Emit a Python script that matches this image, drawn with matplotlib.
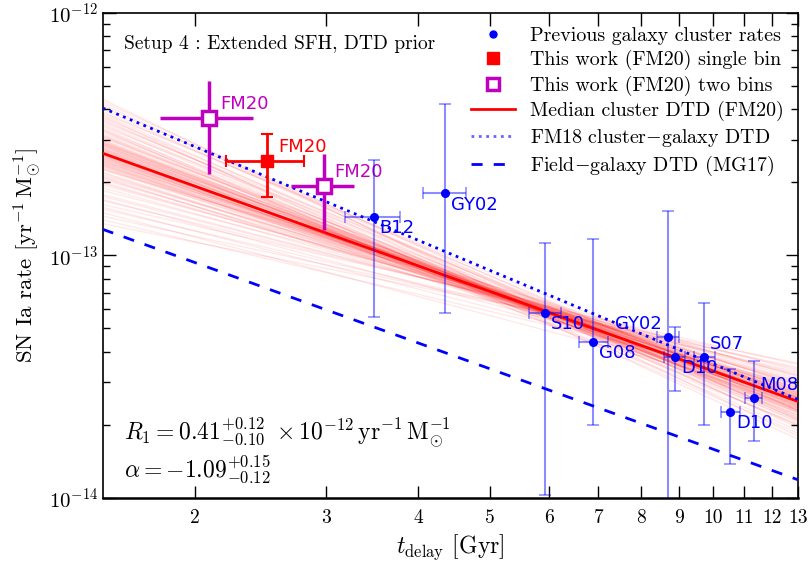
import numpy as np
import matplotlib
matplotlib.use("Agg")
import matplotlib.pyplot as plt
from matplotlib.lines import Line2D
from matplotlib.ticker import NullLocator, FixedLocator, FixedFormatter, LogFormatterSciNotation

plt.rcParams['font.family'] = 'serif'
plt.rcParams['font.serif'] = ['cmr10', 'DejaVu Serif']
plt.rcParams['mathtext.fontset'] = 'cm'
plt.rcParams['axes.formatter.use_mathtext'] = True
plt.rcParams['axes.unicode_minus'] = True

# previous galaxy cluster rates (t in Gyr, rate in yr^-1 Msun^-1)
prev_labels = ['B12', 'GY02', 'S10', 'G08', 'GY02', 'D10', 'S07', 'D10', 'M08']
prev_t = [3.48, 4.35, 5.93, 6.89, 8.69, 8.89, 9.73, 10.55, 11.36]
prev_t_lo = [3.18, 4.06, 5.64, 6.59, 8.40, 8.59, 9.43, 10.26, 11.04]
prev_t_hi = [3.78, 4.64, 6.23, 7.20, 9.00, 9.17, 10.04, 10.87, 11.64]
prev_r = [1.44e-13, 1.80e-13, 5.77e-14, 4.41e-14, 4.62e-14, 3.80e-14, 3.80e-14, 2.26e-14, 2.58e-14]
prev_r_lo = [5.55e-14, 5.79e-14, 1.03e-14, 1.99e-14, 1e-16, 2.77e-14, 1.99e-14, 1.38e-14, 1.71e-14]
prev_r_hi = [2.46e-13, 4.22e-13, 1.12e-13, 1.17e-13, 1.53e-13, 5.05e-14, 6.34e-14, 3.41e-14, 3.68e-14]
# label side: 'below' right of point, 'above' right, 'aboveleft'
prev_lab_pos = ['below', 'below', 'below', 'below', 'aboveleft', 'below', 'above', 'below', 'above']

# this work, single bin
single_t, single_t_lo, single_t_hi = 2.50, 2.20, 2.80
single_r, single_r_lo, single_r_hi = 2.45e-13, 1.74e-13, 3.15e-13

# this work, two bins
two_t = [2.09, 2.98]
two_t_lo = [1.79, 2.69]
two_t_hi = [2.39, 3.28]
two_r = [3.69e-13, 1.94e-13]
two_r_lo = [2.16e-13, 1.27e-13]
two_r_hi = [5.23e-13, 2.61e-13]

# power-law DTDs: R1 (at 1 Gyr) and slope
med_R1, med_alpha = 0.41e-12, -1.09
fm18_R1, fm18_alpha = 0.68e-12, -1.28
mg17_R1, mg17_alpha = 0.20e-12, -1.10

# posterior draws: rate at t=1.5 Gyr (1e-13) and at t=13 Gyr (1e-14)
post_left = [2.64, 2.50, 2.80, 2.35, 2.95, 2.70, 2.45, 2.58, 3.10, 2.25,
             2.85, 2.40, 2.62, 3.30, 2.15, 2.75, 2.55, 2.90, 2.30, 3.50,
             2.68, 2.48, 2.05, 3.00, 2.60, 2.78, 2.38, 3.20, 2.52, 1.95,
             2.72, 2.44, 3.05, 2.66, 2.20, 3.80, 2.56, 2.88, 2.42, 2.10,
             2.82, 2.62, 3.40, 2.34, 2.98, 2.50, 1.85, 2.76, 4.20, 2.58,
             2.46, 2.92, 2.28, 3.15, 2.70, 2.40, 2.86, 2.54, 3.60, 2.00,
             1.70, 3.25, 2.12, 2.94, 1.55, 3.45, 2.36, 3.70, 1.45, 2.18,
             3.35, 1.90, 4.00, 2.26, 3.08, 1.62, 2.84, 3.55, 1.78, 4.40,
             2.32, 3.12, 1.98, 2.74, 3.90, 1.35, 2.60, 3.28, 2.08, 2.90,
             1.50, 4.10, 1.68, 3.65, 1.40, 3.85, 1.75, 4.30, 1.58, 3.75]
post_right = [2.50, 2.62, 2.38, 2.70, 2.45, 2.30, 2.75, 2.55, 2.28, 2.85,
              2.40, 2.58, 2.66, 2.20, 2.95, 2.52, 2.35, 2.60, 2.48, 2.10,
              2.42, 2.78, 3.05, 2.32, 2.56, 2.64, 2.44, 2.36, 2.90, 3.20,
              2.47, 2.68, 2.60, 2.34, 2.72, 2.05, 2.51, 2.40, 2.82, 2.62,
              2.57, 2.26, 2.48, 2.58, 2.18, 2.66, 3.35, 2.44, 1.95, 2.74,
              2.54, 2.39, 2.92, 2.25, 2.60, 2.70, 2.31, 2.49, 2.15, 3.00,
              2.88, 2.12, 3.10, 2.20, 3.30, 2.00, 2.76, 2.30, 3.45, 2.66,
              1.90, 2.98, 2.14, 3.15, 2.08, 3.55, 2.02, 2.45, 3.20, 1.80,
              2.72, 2.24, 3.02, 2.35, 2.40, 3.60, 2.52, 1.85, 2.80, 2.28,
              2.60, 2.30, 3.40, 1.98, 2.95, 2.55, 3.25, 2.10, 2.85, 1.75]

x_ticks = [2, 3, 4, 5, 6, 7, 8, 9, 10, 11, 12, 13]
y_ticks = [1e-14, 1e-13, 1e-12]
y_minor = [k * 10.0 ** e for e in (-14, -13) for k in range(2, 10)]
t_min, t_max = 1.5, 13.0

fig = plt.figure(figsize=(8.08, 5.64), dpi=100)
ax = fig.add_axes([0.1271, 0.1170, 0.8601, 0.8605])
ax.set_xscale('log')
ax.set_yscale('log')

# posterior lines
for l, r in zip(post_left, post_right):
    ax.plot([t_min, t_max], [l * 1e-13, r * 1e-14], color='red', alpha=0.09, lw=1, zorder=1)

t_line = np.array([t_min, t_max])
ax.plot(t_line, med_R1 * t_line ** med_alpha, color='red', lw=2, zorder=3)
ax.plot(t_line, fm18_R1 * t_line ** fm18_alpha, color='blue', ls=':', lw=2, zorder=3)
ax.plot(t_line, mg17_R1 * t_line ** mg17_alpha, color='blue', ls='--', lw=2, dashes=(4, 4), zorder=3)

# previous cluster rates
pt = np.array(prev_t)
pr = np.array(prev_r)
xerr = [pt - np.array(prev_t_lo), np.array(prev_t_hi) - pt]
yerr = [pr - np.array(prev_r_lo), np.array(prev_r_hi) - pr]
ax.errorbar(pt, pr, xerr=xerr, yerr=yerr, fmt='none', ecolor='blue', alpha=0.45,
            elinewidth=1.5, capsize=4, capthick=1.2, zorder=4)
ax.plot(pt, pr, 'o', color='blue', ms=5.5, zorder=5)
for t, r, lab, pos in zip(prev_t, prev_r, prev_labels, prev_lab_pos):
    if pos == 'below':
        ax.annotate(lab, (t, r), xytext=(4, -8), textcoords='offset points',
                    ha='left', va='center', color='blue', fontsize=13, family='DejaVu Sans')
    elif pos == 'above':
        ax.annotate(lab, (t, r), xytext=(4, 9.5), textcoords='offset points',
                    ha='left', va='center', color='blue', fontsize=13, family='DejaVu Sans')
    else:
        ax.annotate(lab, (t, r), xytext=(-4.5, 9), textcoords='offset points',
                    ha='right', va='center', color='blue', fontsize=13, family='DejaVu Sans')

# this work
ax.errorbar([single_t], [single_r],
            xerr=[[single_t - single_t_lo], [single_t_hi - single_t]],
            yerr=[[single_r - single_r_lo], [single_r_hi - single_r]],
            fmt='s', color='red', ms=9, elinewidth=2, capsize=4, capthick=1.5, zorder=7)
tt = np.array(two_t)
tr = np.array(two_r)
ax.errorbar(tt, tr, xerr=[tt - np.array(two_t_lo), np.array(two_t_hi) - tt],
            yerr=[tr - np.array(two_r_lo), np.array(two_r_hi) - tr],
            fmt='s', color='m', mfc='white', mec='m', mew=2.5, ms=9.5,
            elinewidth=2.5, capsize=0, zorder=7)
for t, r, c in [(two_t[0], two_r[0], 'm'), (single_t, single_r, 'red'), (two_t[1], two_r[1], 'm')]:
    ax.annotate('FM20', (t, r), xytext=(8, 9.7), textcoords='offset points',
                ha='left', va='center', color=c, fontsize=13, family='DejaVu Sans')

ax.set_xlim(t_min, t_max)
ax.set_ylim(1e-14, 1e-12)
ax.xaxis.set_major_locator(FixedLocator(x_ticks))
ax.xaxis.set_major_formatter(FixedFormatter([str(v) for v in x_ticks]))
ax.xaxis.set_minor_locator(NullLocator())
ax.yaxis.set_major_locator(FixedLocator(y_ticks))
ax.yaxis.set_major_formatter(LogFormatterSciNotation())
ax.yaxis.set_minor_locator(FixedLocator(y_minor))
ax.tick_params(which='both', direction='in', top=True, right=True)
ax.tick_params(which='major', length=9, width=1, labelsize=14, pad=8)
ax.tick_params(which='minor', length=5, width=1)
ax.tick_params(axis='y', which='major', labelsize=15, pad=3)
for s in ax.spines.values():
    s.set_linewidth(1.2)
ax.spines['bottom'].set_linewidth(1.8)

ax.set_xlabel(r'$t_{\mathrm{delay}}$ [Gyr]', fontsize=17)
ax.set_ylabel(r'SN Ia rate $[\mathrm{yr}^{-1}\,\mathrm{M}_{\odot}^{-1}]$', fontsize=16.5)

ax.text(0.03, 0.935, 'Setup 4 : Extended SFH, DTD prior', transform=ax.transAxes,
        fontsize=14, va='center', ha='left')
ax.text(0.03, 0.135, r'$R_1 = 0.41^{+0.12}_{-0.10}\ \times 10^{-12}\,\mathrm{yr^{-1}\,M_{\odot}^{-1}}$',
        transform=ax.transAxes, fontsize=17, va='center', ha='left')
ax.text(0.03, 0.06, r'$\alpha = -1.09^{+0.15}_{-0.12}$',
        transform=ax.transAxes, fontsize=17, va='center', ha='left')

handles = [
    Line2D([], [], ls='none', marker='o', color='blue', ms=5),
    Line2D([], [], ls='none', marker='s', color='red', ms=9),
    Line2D([], [], ls='none', marker='s', mfc='white', mec='m', mew=2.5, ms=9),
    Line2D([], [], color='red', lw=2),
    Line2D([], [], color='blue', ls=':', lw=2, alpha=0.6),
    Line2D([], [], color='blue', ls='--', lw=2, dashes=(4, 4)),
]
labels = ['Previous galaxy cluster rates', 'This work (FM20) single bin',
          'This work (FM20) two bins', 'Median cluster DTD (FM20)',
          r'FM18 cluster$-$galaxy DTD', r'Field$-$galaxy DTD (MG17)']
ax.legend(handles, labels, loc='upper right', frameon=False, fontsize=14.4,
          numpoints=1, handlelength=2.2, handletextpad=0.75, labelspacing=0.27,
          borderaxespad=0.45, borderpad=0.25)

fig.savefig('out.png', dpi=100)
